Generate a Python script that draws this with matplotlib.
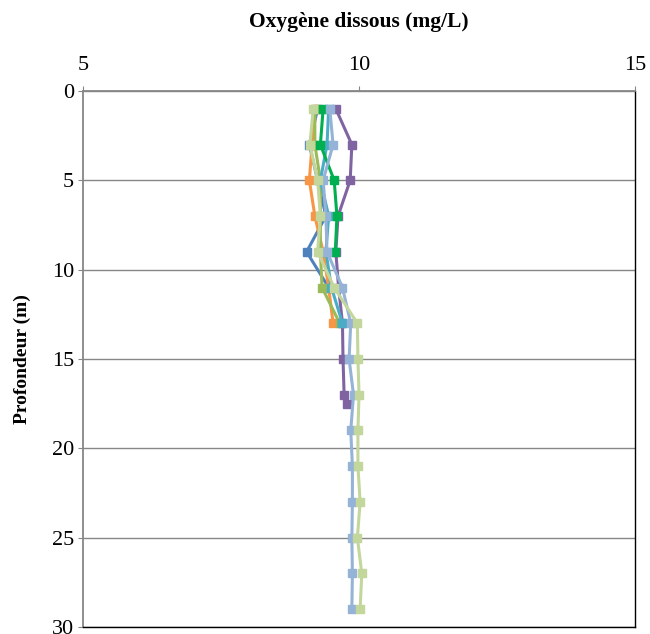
import matplotlib
matplotlib.use("Agg")
import matplotlib.pyplot as plt

plt.rcParams['font.family'] = ['Liberation Serif', 'DejaVu Serif']

# depth profiles (m) and dissolved oxygen (mg/L)
depth_short = [1, 3, 5, 7, 9, 11, 13]
depth_long = [1, 3, 5, 7, 9, 11, 13, 15, 17, 19, 21, 23, 25, 27, 29]
depth_purple = [1, 3, 5, 7, 9, 11, 13, 15, 17, 17.5]

blue = [9.25, 9.10, 9.25, 9.40, 9.05, 9.45]
orange = [9.20, 9.15, 9.10, 9.20, 9.35, 9.45, 9.53]
olive = [9.20, 9.20, 9.30, 9.30, 9.30, 9.33, 9.65]
teal = [9.45, 9.42, 9.30, 9.45, 9.40, 9.50, 9.70]
green = [9.35, 9.30, 9.55, 9.60, 9.57]
purple = [9.58, 9.87, 9.84, 9.62, 9.58, 9.63, 9.70, 9.71, 9.73, 9.78]
light_blue = [9.47, 9.53, 9.35, 9.40, 9.42, 9.70, 9.85, 9.82, 9.90,
              9.85, 9.88, 9.88, 9.87, 9.88, 9.87]
light_green = [9.17, 9.11, 9.25, 9.30, 9.25, 9.55, 9.97, 9.98, 10.00,
               9.98, 9.98, 10.02, 9.97, 10.05, 10.02]

series = [
    (blue, depth_short[:len(blue)], '#4F81BD'),
    (orange, depth_short, '#F79646'),
    (olive, depth_short, '#9BBB59'),
    (purple, depth_purple, '#8064A2'),
    (teal, depth_short, '#4BACC6'),
    (green, depth_short[:len(green)], '#00B050'),
    (light_blue, depth_long, '#95B3D7'),
    (light_green, depth_long, '#C3D69B'),
]

fig = plt.figure(figsize=(6.5, 6.34), dpi=100)
ax = fig.add_axes([0.1277, 0.011, 0.8493, 0.8455])

for xs, ys, col in series:
    ax.plot(xs, ys, color=col, lw=2.2, marker='s', ms=6, mec=col, mfc=col)

ax.set_xlim(5, 15)
ax.set_ylim(30, 0)
ax.set_xticks([5, 10, 15])
ax.set_yticks(range(0, 31, 5))
ax.xaxis.tick_top()
ax.grid(axis='y', color='#868686', lw=1)
ax.set_axisbelow(True)

for side in ['left', 'top']:
    ax.spines[side].set_color('#868686')
    ax.spines[side].set_linewidth(1.3)
for side in ['right', 'bottom']:
    ax.spines[side].set_color('black')
    ax.spines[side].set_linewidth(1.0)

ax.tick_params(axis='both', direction='out', length=3.5, color='#868686',
               labelsize=16)
ax.tick_params(axis='x', pad=8)
ax.tick_params(axis='y', pad=3)

fig.text(359 / 650, 1 - 22 / 634, 'Oxygène dissous (mg/L)', fontsize=15.5,
         fontweight='bold', ha='center', va='center')
fig.text(22 / 650, 1 - 359 / 634, 'Profondeur (m)', fontsize=14,
         fontweight='bold', ha='center', va='center', rotation=90)

fig.savefig('out.png', dpi=100)
